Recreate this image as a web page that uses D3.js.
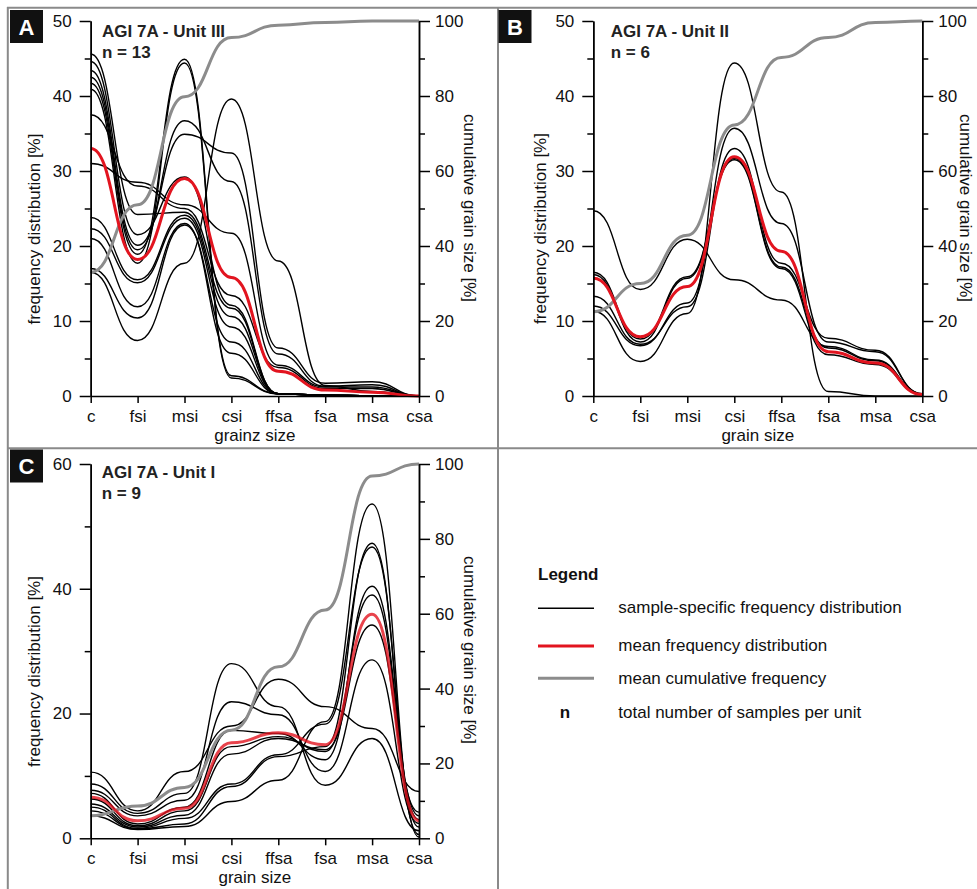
<!DOCTYPE html>
<html>
<head>
<meta charset="utf-8">
<script src="https://cdn.jsdelivr.net/npm/d3@7/dist/d3.min.js"></script>
<style>
body { margin: 0; background: #fff; }
svg { display: block; font-family: "Liberation Sans", Arial, sans-serif; }
</style>
</head>
<body>
<script>
//grain size classes on the x axis
var grainClasses = ["c", "fsi", "msi", "csi", "ffsa", "fsa", "msa", "csa"];

//Unit III (panel A), one row per sample, values in %
var unit3Samples = [
    [16.5, 7.4, 17.7, 39.6, 18.0, 1.4, 0.6, 0],
    [17.0, 10.4, 22.8, 7.2, 0.3, 0.1, 0.05, 0],
    [21.0, 11.9, 23.0, 5.7, 0.3, 0.1, 0.05, 0],
    [22.3, 15.1, 23.7, 9.2, 0.3, 0.1, 0.05, 0],
    [23.8, 15.5, 24.1, 10.6, 0.3, 0.1, 0.05, 0],
    [31.0, 28.5, 25.5, 21.7, 4.1, 1.2, 1.2, 0],
    [37.5, 28.0, 25.0, 13.4, 3.8, 1.0, 1.0, 0],
    [40.9, 17.7, 44.4, 2.4, 0.3, 0.1, 0.05, 0],
    [41.7, 18.9, 44.9, 2.7, 0.3, 0.1, 0.05, 0],
    [42.5, 19.5, 36.7, 28.6, 5.6, 1.3, 1.5, 0],
    [43.4, 20.1, 34.9, 32.4, 6.4, 1.7, 1.9, 0],
    [44.6, 21.5, 29.2, 12.1, 0.3, 0.1, 0.05, 0],
    [45.6, 24.2, 24.5, 11.7, 0.3, 0.1, 0.05, 0]
];
var unit3Mean = [33.0, 18.2, 29.0, 15.8, 3.3, 0.8, 0.5, 0];
var unit3Cumulative = [33.0, 51.0, 79.8, 95.6, 98.9, 99.6, 100, 100];

//Unit II (panel B)
var unit2Samples = [
    [11.3, 4.6, 11.0, 44.4, 27.2, 0.6, 0.0, 0.0],
    [24.7, 14.2, 20.9, 15.5, 12.8, 6.6, 4.8, 0.3],
    [16.5, 7.6, 15.9, 31.7, 17.2, 6.4, 4.7, 0.2],
    [16.2, 7.2, 15.7, 31.5, 17.0, 5.5, 4.2, 0.2],
    [13.3, 6.9, 11.9, 33.0, 17.7, 7.7, 6.1, 0.3],
    [12.0, 6.7, 12.4, 35.7, 23.0, 7.2, 5.9, 0.3]
];
var unit2Mean = [15.7, 7.9, 14.6, 31.9, 19.3, 5.9, 4.4, 0.2];
var unit2Cumulative = [22.5, 30.0, 42.9, 72.3, 90.3, 95.6, 99.6, 100];

//Unit I (panel C)
var unit1Samples = [
    [10.6, 4.4, 10.7, 18.0, 25.5, 21.1, 17.6, 7.5],
    [8.7, 4.0, 7.2, 28.0, 21.1, 8.5, 16.0, 1.2],
    [7.7, 3.6, 6.1, 21.9, 19.8, 10.7, 28.6, 2.4],
    [7.2, 2.3, 5.0, 17.3, 16.8, 12.6, 40.4, 3.6],
    [6.3, 2.0, 4.4, 14.7, 16.3, 13.9, 39.0, 3.0],
    [5.5, 1.8, 3.7, 13.5, 16.0, 14.2, 34.2, 4.2],
    [5.0, 1.6, 3.2, 8.7, 13.4, 18.3, 46.7, 1.8],
    [4.4, 1.5, 2.3, 8.3, 13.1, 14.7, 47.3, 0.6],
    [3.6, 1.4, 1.9, 5.9, 9.3, 18.7, 53.6, 0.2]
];
var unit1Mean = [6.6, 2.8, 4.8, 15.3, 16.9, 15.0, 35.9, 2.8];
var unit1Cumulative = [6.0, 8.6, 13.6, 28.9, 45.8, 61.0, 96.8, 100];

//legend entries
var legendLabels = ["sample-specific frequency distribution", "mean frequency distribution",
    "mean cumulative frequency", "total number of samples per unit"];

//panel layout (positions only)
var panels = [
    {letter: "A", title: "AGI 7A - Unit III", n: 13, xTitle: "grainz size",
     samples: unit3Samples, mean: unit3Mean, cum: unit3Cumulative,
     yMax: 50, yMajor: [0, 10, 20, 30, 40, 50], yMinor: [5, 15, 25, 35, 45],
     left: 90.7, right: 419, top: 21, bottom: 396,
     box: [10, 10], titleX: 102, titleY: 37, lLab: [40, 229], rLab: [463.6, 208]},
    {letter: "B", title: "AGI 7A - Unit II", n: 6, xTitle: "grain size",
     samples: unit2Samples, mean: unit2Mean, cum: unit2Cumulative,
     yMax: 50, yMajor: [0, 10, 20, 30, 40, 50], yMinor: [5, 15, 25, 35, 45],
     left: 593.3, right: 922.3, top: 21, bottom: 396,
     box: [498.5, 10], titleX: 610.7, titleY: 37, lLab: [545.5, 228.5], rLab: [960.3, 208]},
    {letter: "C", title: "AGI 7A - Unit I", n: 9, xTitle: "grain size",
     samples: unit1Samples, mean: unit1Mean, cum: unit1Cumulative,
     yMax: 60, yMajor: [0, 20, 40, 60], yMinor: [10, 30, 50],
     left: 90.7, right: 419, top: 464, bottom: 838.3,
     box: [10, 449.5], titleX: 101.7, titleY: 478, lLab: [39.7, 671.5], rLab: [463.6, 650]}
];

var width = 977, height = 889;
var red = "#e2141f", grey = "#8c8c8c";

var svg = d3.select("body").append("svg")
    .attr("width", width)
    .attr("height", height);

//panel frame lines
var frame = svg.append("g")
    .attr("stroke", "#8a8a8a")
    .attr("stroke-width", 2);
frame.append("line").attr("x1", 7).attr("x2", width).attr("y1", 7.7).attr("y2", 7.7);
frame.append("line").attr("x1", 7.8).attr("x2", 7.8).attr("y1", 7).attr("y2", height);
frame.append("line").attr("x1", 498).attr("x2", 498).attr("y1", 7).attr("y2", height);
frame.append("line").attr("x1", 7).attr("x2", width).attr("y1", 448.3).attr("y2", 448.3);

panels.forEach(drawPanel);
drawLegend();

function drawPanel(p){
    var g = svg.append("g");

    var x = d3.scalePoint().domain(grainClasses).range([p.left, p.right]);
    var y = d3.scaleLinear().domain([0, p.yMax]).range([p.bottom, p.top]);
    var y2 = d3.scaleLinear().domain([0, 100]).range([p.bottom, p.top]);

    //letter box
    g.append("rect")
        .attr("x", p.box[0]).attr("y", p.box[1])
        .attr("width", 33).attr("height", 33)
        .attr("fill", "#111");
    g.append("text")
        .attr("x", p.box[0] + 16.5).attr("y", p.box[1] + 24.5)
        .attr("text-anchor", "middle")
        .attr("fill", "#fff")
        .attr("font-size", 22).attr("font-weight", "bold")
        .text(p.letter);

    //curves with flat tangents at each class, like the original smoothing
    var line = d3.line()
        .x(function(d, i){ return x(grainClasses[i]); })
        .curve(d3.curveBumpX);

    g.selectAll(".sample")
        .data(p.samples)
        .enter()
        .append("path")
        .attr("class", "sample")
        .attr("fill", "none")
        .attr("stroke", "#000")
        .attr("stroke-width", 1.4)
        .attr("d", line.y(function(d){ return y(d); }));

    g.append("path")
        .datum(p.cum)
        .attr("fill", "none")
        .attr("stroke", grey)
        .attr("stroke-width", 3)
        .attr("d", line.y(function(d){ return y2(d); }));

    g.append("path")
        .datum(p.mean)
        .attr("fill", "none")
        .attr("stroke", red)
        .attr("stroke-opacity", p.letter == "C" ? 0.8 : 1)
        .attr("stroke-width", 3)
        .attr("d", line.y(function(d){ return y(d); }));

    //axes
    var axes = g.append("g");

    axes.append("g")
        .attr("transform", "translate(" + p.left + ",0)")
        .call(d3.axisLeft(y).tickValues(p.yMajor).tickSize(11).tickPadding(8).tickSizeOuter(0));
    axes.append("g")
        .attr("transform", "translate(" + p.left + ",0)")
        .call(d3.axisLeft(y).tickValues(p.yMinor).tickSize(6).tickFormat("").tickSizeOuter(0));

    axes.append("g")
        .attr("transform", "translate(" + p.right + ",0)")
        .call(d3.axisRight(y2).tickValues([0, 20, 40, 60, 80, 100]).tickSize(11).tickPadding(5).tickSizeOuter(0));
    axes.append("g")
        .attr("transform", "translate(" + p.right + ",0)")
        .call(d3.axisRight(y2).tickValues([10, 30, 50, 70, 90]).tickSize(6).tickFormat("").tickSizeOuter(0));

    axes.append("g")
        .attr("transform", "translate(0," + p.bottom + ")")
        .call(d3.axisBottom(x).tickSize(7).tickPadding(7).tickSizeOuter(0));

    //axis sets its own font, so restyle afterwards
    axes.selectAll("g").attr("font-size", null).attr("font-family", null);
    axes.selectAll("path, line")
        .attr("stroke", "#000")
        .attr("stroke-width", 1.5);
    axes.selectAll("text")
        .attr("font-size", 17)
        .attr("fill", "#111");

    //axis titles
    g.append("text")
        .attr("transform", "translate(" + p.lLab[0] + "," + p.lLab[1] + ") rotate(-90)")
        .attr("text-anchor", "middle")
        .attr("font-size", 17).attr("fill", "#111")
        .text("frequency distribution [%]");
    g.append("text")
        .attr("transform", "translate(" + p.rLab[0] + "," + p.rLab[1] + ") rotate(90)")
        .attr("text-anchor", "middle")
        .attr("font-size", 17).attr("fill", "#111")
        .text("cumulative grain size [%]");
    g.append("text")
        .attr("x", (p.left + p.right) / 2)
        .attr("y", p.bottom + 44.5)
        .attr("text-anchor", "middle")
        .attr("font-size", 17).attr("fill", "#111")
        .text(p.xTitle);

    //unit title
    g.append("text")
        .attr("x", p.titleX).attr("y", p.titleY)
        .attr("font-size", 17).attr("font-weight", "bold").attr("fill", "#222")
        .text(p.title);
    g.append("text")
        .attr("x", p.titleX).attr("y", p.titleY + 20.5)
        .attr("font-size", 17).attr("font-weight", "bold").attr("fill", "#222")
        .text("n = " + p.n);
}

function drawLegend(){
    var lg = svg.append("g");
    var lineY = [608.3, 646, 678.3];
    var textY = [612.5, 651, 684, 718.3];
    var styles = [["#000", 1.5], [red, 3], [grey, 3]];

    lg.append("text")
        .attr("x", 538).attr("y", 580)
        .attr("font-size", 17).attr("font-weight", "bold").attr("fill", "#111")
        .text("Legend");

    lineY.forEach(function(ly, i){
        lg.append("line")
            .attr("x1", 538).attr("x2", 594)
            .attr("y1", ly).attr("y2", ly)
            .attr("stroke", styles[i][0])
            .attr("stroke-width", styles[i][1]);
    });

    lg.append("text")
        .attr("x", 565).attr("y", textY[3])
        .attr("text-anchor", "middle")
        .attr("font-size", 17).attr("font-weight", "bold").attr("fill", "#111")
        .text("n");

    lg.selectAll(".legtext")
        .data(legendLabels)
        .enter()
        .append("text")
        .attr("class", "legtext")
        .attr("x", 618.3)
        .attr("y", function(d, i){ return textY[i]; })
        .attr("font-size", 17).attr("fill", "#111")
        .text(function(d){ return d; });
}
</script>
</body>
</html>
